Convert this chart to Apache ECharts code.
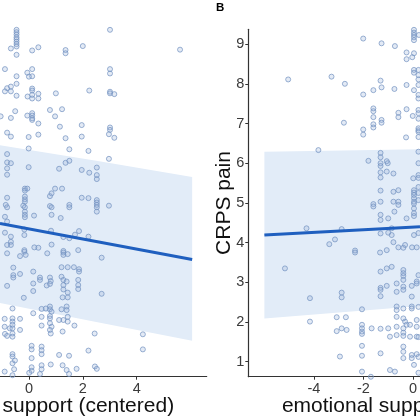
<!DOCTYPE html>
<html>
<head>
<meta charset="utf-8">
<script src="https://cdn.jsdelivr.net/npm/echarts@6/dist/echarts.min.js"></script>
<style>html,body{margin:0;padding:0;background:#fff}#c{width:420px;height:420px}</style>
</head>
<body>
<div id="c"></div>
<script>
// ---------- Panel A (left, cropped) ----------
const leftPts = [
[-0.46,9.36],[-0.46,9.30],[-0.46,9.24],[-0.46,9.17],[-0.46,9.12],[-0.46,9.06],[-0.46,9.00],[-0.46,8.94],
[3.01,9.36],[-0.67,8.89],[0.12,8.84],[0.35,8.92],[-0.46,8.73],[1.36,8.85],[1.36,8.77],[2.00,8.95],[5.61,8.86],
[-0.89,8.37],[0.12,8.37],[-0.06,8.28],[0.00,8.18],[0.12,8.19],[-0.46,8.19],[3.01,8.37],[3.01,8.26],
[-0.81,7.89],[-0.67,7.93],[-0.89,7.81],[-0.67,7.81],[-0.46,8.00],[-0.46,7.70],
[0.12,7.88],[0.12,7.83],[0.12,7.72],[0.12,7.63],[-0.05,7.68],[0.35,7.75],[0.35,7.63],[1.00,7.76],[2.24,7.83],
[3.01,7.80],[3.01,7.76],[3.17,7.74],
[-1.05,7.18],[-0.67,7.14],[-0.51,7.31],[-0.06,7.20],[0.12,7.26],[0.12,7.20],[0.12,7.13],[0.12,7.09],[0.78,7.34],[0.97,7.18],[1.23,7.36],
[0.35,7.00],[1.15,6.92],[1.96,6.96],[3.01,6.90],[3.01,6.84],[2.97,6.73],[3.17,6.64],[1.96,6.67],
[-0.81,6.77],[-0.67,6.67],[-0.01,6.66],[0.35,6.72],[1.36,6.63],
[1.50,6.35],[-0.01,6.37],[2.21,6.31],[2.97,6.11],
[-0.81,6.23],[-0.81,6.02],[-0.67,6.00],[-0.81,5.87],[-0.81,5.71],[-0.01,5.90],[1.12,5.86],[1.36,6.01],[1.50,6.06],[1.96,5.83],[2.24,5.76],[2.52,5.89],[2.52,5.70],[2.52,5.60],
[-0.15,5.36],[-0.15,5.31],[-0.06,5.36],[0.97,5.36],[1.23,5.36],[0.84,5.24],[0.78,5.17],
[-0.81,5.13],[-0.15,5.16],[-0.15,5.09],[-0.15,5.03],[1.96,5.13],[2.21,5.12],[2.52,5.07],[2.52,5.01],[2.52,4.95],
[-0.86,4.95],[-0.81,4.89],[-0.21,4.93],[-0.15,4.89],[0.78,4.92],[0.84,4.89],[1.50,4.95],[1.50,4.89],[2.97,4.93],[2.52,4.89],
[-0.89,4.65],[-0.15,4.78],[-0.15,4.70],[-0.15,4.64],[0.19,4.68],[0.84,4.70],[1.18,4.62],[2.52,4.78],[-0.81,4.53],
[-0.89,4.25],[-0.67,4.15],[-0.67,4.02],[-0.67,3.94],[-0.17,4.33],[-0.17,4.19],[0.82,4.30],[1.28,4.14],[1.50,4.11],[1.71,4.20],[1.86,4.29],[2.21,4.15],
[-0.81,3.73],[-0.81,3.94],[-0.33,3.66],[-0.17,3.77],[-0.17,3.81],[-0.12,3.69],[0.20,3.88],[0.35,3.87],[0.68,3.73],[0.84,3.95],[1.28,3.79],[1.28,3.75],[1.28,3.69],[1.44,3.71],[1.83,3.81],[2.70,3.62],
[-0.58,3.37],[-0.58,3.18],[-0.58,3.12],[-0.33,3.21],[0.16,3.27],[0.41,3.12],[0.41,3.06],[0.78,3.12],[0.78,2.96],[0.81,3.03],[1.21,3.38],[1.21,3.14],[1.28,3.06],[1.28,2.93],[1.28,2.82],[1.44,3.38],[1.40,3.02],[1.67,3.38],[1.86,3.33],[1.86,3.27],[1.83,3.06],[1.83,2.93],[1.83,2.83],[-0.81,2.91],[0.16,2.97],[0.16,2.78],[0.66,2.92],[1.25,2.62],[1.44,2.74],[1.44,2.62],[-0.19,2.61],[2.70,2.71],
[-0.61,2.34],[-0.90,2.08],[-0.61,2.09],[-0.61,2.01],[-0.61,1.93],[-0.33,2.08],[-0.90,1.88],[-0.71,1.84],[-0.61,1.84],[-0.33,1.80],[-0.89,1.70],[-0.61,1.71],[-0.61,1.63],[-0.81,1.65],
[0.47,2.33],[0.63,2.34],[0.78,2.39],[0.78,2.32],[0.84,2.26],[0.78,2.15],[0.78,2.09],[0.78,1.97],[0.84,1.88],[0.78,1.80],[0.81,1.71],[0.47,2.13],[0.47,1.91],[0.16,2.22],[1.21,2.32],[1.40,2.39],[1.40,2.30],[1.44,2.13],[1.44,2.01],[1.28,2.05],[1.12,2.05],[1.25,1.76],[1.69,1.91],[2.44,1.71],[4.23,1.69],
[0.10,1.40],[0.10,1.31],[0.10,1.09],[0.47,1.38],[0.47,1.29],[0.47,1.19],[1.12,1.17],[1.49,1.15],[2.21,1.28],[4.23,1.31],
[-0.61,1.19],[-0.61,1.13],[-0.52,1.03],[-0.61,0.96],[-0.90,0.75],[-0.55,0.81],[0.10,0.86],[0.10,0.77],[0.47,0.91],[0.47,0.81],[0.41,0.69],[0.81,0.93],[1.25,0.91],[1.40,0.79],[1.49,0.69],[1.77,0.82],[2.45,0.88],[2.52,0.82],[-0.61,0.66],[0.01,0.72]
];
const leftFitX = [-1.074, 6.06];
const leftFitY = [4.48, 3.575];
const leftBandX = [-1.074, 2.5, 6.06];
const leftBandLo = [2.48, 2.0, 1.525];
const leftBandHi = [6.45, 6.06, 5.65];
const leftTicks = [0, 2, 4];

// ---------- Panel B (right, cropped) ----------
const rightPts = [
[-2.01,9.14],[-1.27,9.02],[-0.73,8.95],[0.04,9.36],[0.04,9.29],[0.04,9.23],[0.04,9.17],[0.04,9.10],[0.24,9.23],[-0.26,8.79],[0.04,8.77],[-0.26,8.62],[-0.03,8.67],
[-5.04,8.11],[-3.29,8.18],[-2.75,8.00],[-2.01,7.73],[-1.60,7.84],[-1.31,8.08],[-1.27,7.91],[-0.75,7.87],[-0.26,7.97],[0.04,8.35],[0.04,8.28],[0.04,7.84],[0.22,8.35],[0.22,8.22],[0.22,8.11],[0.22,7.97],[0.22,7.72],[0.22,7.63],
[-2.79,7.02],[-2.01,6.85],[-2.01,6.72],[-1.60,7.38],[-1.60,7.31],[-1.60,7.16],[-1.60,6.98],[-1.60,6.90],[-1.27,7.09],[-1.27,7.02],[-0.59,7.27],[-0.59,7.16],[-0.26,7.36],[-0.01,7.19],[0.22,7.34],[0.22,7.26],[0.22,7.12],[0.22,6.88],[0.22,6.79],[-0.28,6.65],
[-3.82,6.33],[-1.80,6.06],[-1.31,6.26],[-1.31,6.15],[-1.31,6.00],[-1.31,5.93],[-1.31,5.77],[-1.31,5.64],[-1.06,6.05],[-1.02,6.00],[-1.06,5.79],[-0.79,5.74],[-1.31,5.31],[-0.79,5.28],[-0.59,5.32],[0.01,5.62],[0.22,6.29],[0.22,6.00],[0.22,5.70],[0.04,5.32],[0.04,5.26],[0.04,5.20],[0.04,5.12],[0.04,5.03],[0.22,5.07],[-1.60,4.97],[-1.60,4.91],[-1.31,5.03],[-0.79,5.03],[-0.59,5.03],[-0.59,4.95],
[0.22,6.66],[0.22,6.83],[0.22,5.63],[0.22,5.40],[0.22,5.25],[0.04,4.98],[0.04,4.86],
[-4.30,4.36],[-2.88,4.34],[-3.15,4.08],[-3.38,3.96],[-2.34,3.80],[-2.34,3.75],[-5.17,3.35],[-4.16,2.60],[-2.88,2.74],[-2.88,2.62],[-4.16,2.01],[-3.08,2.12],[-2.71,2.12],[-3.08,1.77],[-2.88,1.84],[-2.68,1.80],[-2.95,1.13],
[-1.31,4.70],[-1.31,4.57],[-1.00,4.61],[-0.75,4.78],[-0.26,4.61],[0.04,4.74],[0.04,4.67],[-1.31,4.23],[-1.00,4.25],[-0.86,4.36],[-0.86,4.19],[-0.79,4.01],[-1.33,3.75],[-1.06,3.81],[-0.59,3.88],[-0.39,3.87],[-0.32,3.94],[-0.04,3.88],[0.15,3.88],[0.04,4.19],
[-1.31,3.27],[-1.06,3.35],[-0.86,3.39],[-1.31,2.86],[-1.31,2.81],[-1.06,2.91],[-1.31,2.65],[-0.66,2.97],[-0.66,2.76],[-0.39,3.31],[-0.39,3.23],[-0.39,3.16],[-0.39,3.06],[-0.39,2.89],[-0.39,2.81],[-0.05,2.91],[0.15,3.02],[0.15,2.97],[-0.05,2.64],[-0.05,2.39],[-0.05,2.34],
[-2.06,2.32],[-2.06,1.93],[-2.06,1.84],[-2.06,1.76],[-2.06,1.70],[-1.67,1.84],[-1.31,1.83],[-1.00,1.84],[-0.93,1.63],[-0.66,2.39],[-0.66,2.30],[-0.66,2.13],[-0.39,2.34],[-0.39,2.09],[-0.32,2.01],[-0.26,1.93],[-0.12,1.93],[0.15,2.05],[0.15,1.88],[-0.66,1.88],[-0.66,1.67],[-0.39,1.84],[-0.39,1.73],[-0.39,1.65],[-0.12,1.63],[0.15,1.63],
[-2.06,1.40],[-2.06,1.15],[-1.31,1.21],[-0.93,0.79],[-0.73,0.75],[-0.39,1.38],[-0.39,1.25],[-0.39,1.09],[-0.05,1.17],[-0.05,1.09],[0.04,0.92],[0.15,1.19],[-2.06,0.75],[-1.70,0.62],
[0.22,4.24],[0.22,3.18],[0.22,2.38],[0.22,1.62],[0.22,1.12],[0.22,0.72]
];
const rightFitX = [-6.0, 0.283];
const rightFitY = [4.19, 4.40];
const rightBandX = [-6.0, 0.283];
const rightBandLo = [2.09, 2.40];
const rightBandHi = [6.29, 6.35];
const rightXTicks = [-4, -2, 0];
const yTicks = [1, 2, 3, 4, 5, 6, 7, 8, 9];

const FONT = 'Liberation Sans, Arial, sans-serif';
const AX = '#333';
const TXT = '#3a3a3a';

function band(xi, bx, lo, hi) {
  return {
    type: 'custom', xAxisIndex: xi, yAxisIndex: xi, clip: true, silent: true, z: 1,
    data: [[bx[0], hi[0]]],
    renderItem: function (params, api) {
      const pts = [];
      for (let i = 0; i < bx.length; i++) pts.push(api.coord([bx[i], hi[i]]));
      for (let i = bx.length - 1; i >= 0; i--) pts.push(api.coord([bx[i], lo[i]]));
      return { type: 'polygon', shape: { points: pts }, style: { fill: '#e2ecf8' } };
    }
  };
}
function pts(xi, data) {
  return {
    type: 'scatter', xAxisIndex: xi, yAxisIndex: xi, z: 2, symbol: 'circle', symbolSize: 5,
    data: data, clip: true,
    itemStyle: { color: 'rgba(140,170,215,0.30)', borderColor: '#7393c0', borderWidth: 0.9 }
  };
}
function fit(xi, fx, fy) {
  return {
    type: 'line', xAxisIndex: xi, yAxisIndex: xi, z: 3, showSymbol: false, clip: true,
    data: fx.map((x, i) => [x, fy[i]]),
    lineStyle: { color: '#1f5fbf', width: 3 }
  };
}

const chart = echarts.init(document.getElementById('c'), null, { renderer: 'canvas' });
chart.setOption({
  animation: false,
  backgroundColor: '#fff',
  title: { text: 'B', left: 216, top: 2, padding: 0, textStyle: { fontSize: 11.5, fontWeight: 'bold', color: '#000', fontFamily: FONT } },
  grid: [
    { left: 0, top: 29.3, width: 206.7, bottom: 43.3, outerBoundsMode: 'none', containLabel: false },
    { left: 248.3, top: 29.3, right: 0, bottom: 43.3, outerBoundsMode: 'none', containLabel: false }
  ],
  xAxis: [
    {
      gridIndex: 0, type: 'value', min: -1.074, max: 6.6,
      splitLine: { show: false },
      axisLine: { show: true, onZero: false, lineStyle: { color: AX, width: 1.2 } },
      axisTick: { show: true, length: 3, customValues: leftTicks, lineStyle: { color: AX } },
      axisLabel: { customValues: leftTicks, fontSize: 14.5, color: TXT, margin: 5, fontFamily: FONT },
      name: 'support (centered)', nameLocation: 'middle', nameGap: 19.5, nameMoveOverlap: false,
      nameTextStyle: { fontSize: 21, color: '#111', fontFamily: FONT, padding: [0, 30, 0, 0] }
    },
    {
      gridIndex: 1, type: 'value', min: -6.65, max: 0.283,
      splitLine: { show: false },
      axisLine: { show: true, onZero: false, lineStyle: { color: AX, width: 1.2 } },
      axisTick: { show: true, length: 3, customValues: rightXTicks, lineStyle: { color: AX } },
      axisLabel: { customValues: rightXTicks, fontSize: 14.5, color: TXT, margin: 5, fontFamily: FONT },
      name: 'emotional supp', nameLocation: 'middle', nameGap: 19.5, nameMoveOverlap: false,
      nameTextStyle: { fontSize: 21, color: '#111', fontFamily: FONT, padding: [0, 0, 0, 38] }
    }
  ],
  yAxis: [
    { gridIndex: 0, type: 'value', min: 0.622, max: 9.373, show: false, splitLine: { show: false } },
    {
      gridIndex: 1, type: 'value', min: 0.622, max: 9.373,
      splitLine: { show: false },
      axisLine: { show: true, onZero: false, lineStyle: { color: AX, width: 1.2 } },
      axisTick: { show: true, length: 3, customValues: yTicks, lineStyle: { color: AX } },
      axisLabel: { customValues: yTicks, fontSize: 14.5, color: TXT, margin: 4, fontFamily: FONT },
      name: 'CRPS pain', nameLocation: 'middle', nameGap: 14, nameMoveOverlap: false,
      nameTextStyle: { fontSize: 21, color: '#111', fontFamily: FONT }
    }
  ],
  series: [
    band(0, leftBandX, leftBandLo, leftBandHi),
    pts(0, leftPts),
    fit(0, leftFitX, leftFitY),
    band(1, rightBandX, rightBandLo, rightBandHi),
    pts(1, rightPts),
    fit(1, rightFitX, rightFitY)
  ]
});
</script>
</body>
</html>
